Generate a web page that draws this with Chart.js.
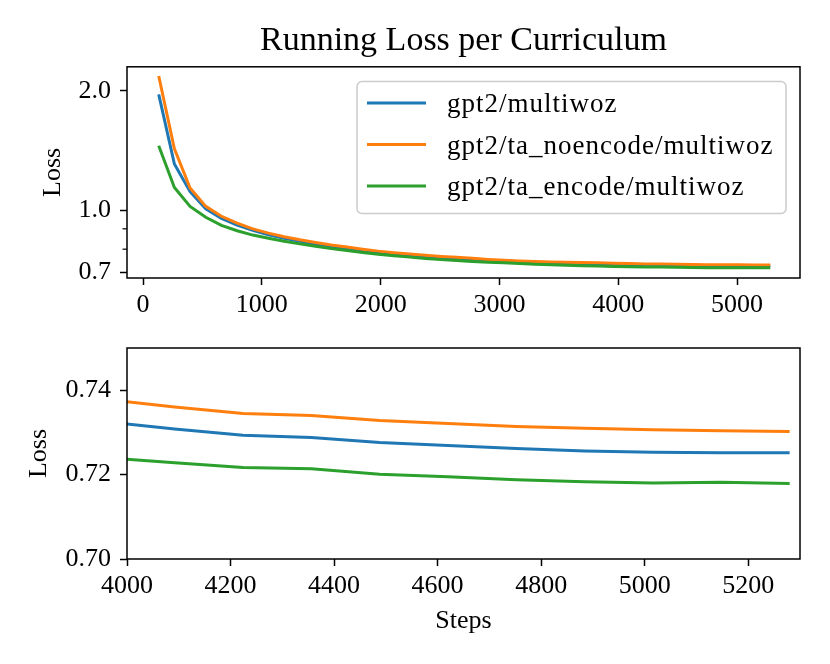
<!DOCTYPE html>
<html>
<head>
<meta charset="utf-8">
<script src="https://cdn.jsdelivr.net/npm/chart.js@4.4.1/dist/chart.umd.min.js"></script>
<style>
  html, body { margin: 0; padding: 0; background: #ffffff; }
  canvas { position: absolute; left: 0; }
</style>
</head>
<body>
<canvas id="topChart" width="830" height="332" style="top:0px"></canvas>
<canvas id="bottomChart" width="830" height="332" style="top:332px"></canvas>
<script>
// ---------------- data ----------------
const steps = [132, 264, 396, 528, 660, 792, 924, 1056, 1188, 1320,
               1452, 1584, 1716, 1848, 1980, 2112, 2244, 2376, 2508, 2640,
               2772, 2904, 3036, 3168, 3300, 3432, 3564, 3696, 3828, 3960,
               4092, 4224, 4356, 4488, 4620, 4752, 4884, 5016, 5148, 5280];

const lossMultiwoz = [1.96, 1.31, 1.116, 1.010, 0.956, 0.920, 0.892, 0.870, 0.852, 0.837,
                      0.824, 0.812, 0.802, 0.793, 0.785, 0.778, 0.772, 0.766, 0.761, 0.757,
                      0.753, 0.749, 0.746, 0.743, 0.740, 0.738, 0.7365, 0.735, 0.7337, 0.7325,
                      0.7308, 0.7293, 0.7288, 0.7276, 0.7269, 0.7262, 0.7256, 0.7253, 0.7252, 0.7252];

const lossTaNoencode = [2.18, 1.43, 1.14, 1.025, 0.968, 0.930, 0.900, 0.878, 0.860, 0.845,
                        0.832, 0.820, 0.810, 0.800, 0.791, 0.784, 0.778, 0.772, 0.767, 0.763,
                        0.759, 0.754, 0.750, 0.747, 0.745, 0.743, 0.7415, 0.7403, 0.7390, 0.7378,
                        0.7360, 0.7345, 0.7340, 0.7328, 0.7321, 0.7314, 0.7310, 0.7306, 0.7304, 0.7302];

const lossTaEncode = [1.456, 1.144, 1.025, 0.962, 0.918, 0.890, 0.868, 0.852, 0.838, 0.825,
                      0.814, 0.803, 0.794, 0.785, 0.777, 0.770, 0.764, 0.758, 0.753, 0.749,
                      0.745, 0.742, 0.739, 0.736, 0.733, 0.731, 0.729, 0.727, 0.7255, 0.7240,
                      0.7228, 0.7217, 0.7214, 0.7201, 0.7195, 0.7188, 0.7183, 0.7180, 0.7182, 0.7179];

const seriesLabels = ['gpt2/multiwoz', 'gpt2/ta_noencode/multiwoz', 'gpt2/ta_encode/multiwoz'];
const seriesColors = ['#1f77b4', '#ff7f0e', '#2ca02c'];

const titleText = 'Running Loss per Curriculum';
const yTitleText = 'Loss';
const xTitleText = 'Steps';

const topXTicks = [0, 1000, 2000, 3000, 4000, 5000];
const topYTicks = [0.7, 0.8, 0.9, 1.0, 2.0];
const topYLabeled = [0.7, 1.0, 2.0];
const bottomXTicks = [4000, 4200, 4400, 4600, 4800, 5000, 5200];
const bottomYTicks = [0.70, 0.72, 0.74];

// ---------------- helpers ----------------
const FONT = "'Liberation Serif', 'Times New Roman', serif";
Chart.defaults.font.family = FONT;
Chart.defaults.color = '#000000';
Chart.defaults.animation = false;

function makeDatasets(clip) {
  const arrs = [lossMultiwoz, lossTaNoencode, lossTaEncode];
  return arrs.map((a, i) => ({
    label: seriesLabels[i],
    data: steps.map((x, j) => ({ x: x, y: a[j] })),
    borderColor: seriesColors[i],
    backgroundColor: seriesColors[i],
    borderWidth: 3,
    pointRadius: 0,
    fill: false,
    tension: 0,
    order: 3 - i,
    clip: clip
  }));
}

function fixYWidth(s) {
  s.width = 127;
  s.paddingTop = 0;
  s.paddingBottom = 0;
}

const framePlugin = {
  id: 'frame',
  afterDatasetsDraw(chart) {
    const { ctx, chartArea: a } = chart;
    ctx.save();
    ctx.strokeStyle = '#000000';
    ctx.lineWidth = 1.5;
    ctx.strokeRect(a.left, a.top, a.right - a.left, a.bottom - a.top);
    ctx.restore();
  }
};

const minorTickPlugin = {
  id: 'minorTicks',
  afterDraw(chart) {
    const { ctx, chartArea: a } = chart;
    const ys = chart.scales.y;
    ctx.save();
    ctx.strokeStyle = '#000000';
    ctx.lineWidth = 1.2;
    topYTicks.filter(v => !topYLabeled.includes(v)).forEach(v => {
      const py = ys.getPixelForValue(v);
      ctx.beginPath();
      ctx.moveTo(a.left - 4.5, py);
      ctx.lineTo(a.left, py);
      ctx.stroke();
    });
    ctx.restore();
  }
};

const legendPlugin = {
  id: 'boxLegend',
  afterDraw(chart) {
    const { ctx, chartArea: a } = chart;
    const boxW = 429, boxH = 132;
    const right = a.right - 14;
    const top = a.top + 14.7;
    const left = right - boxW;
    ctx.save();
    ctx.beginPath();
    if (ctx.roundRect) ctx.roundRect(left, top, boxW, boxH, 5);
    else ctx.rect(left, top, boxW, boxH);
    ctx.fillStyle = 'rgba(255,255,255,0.8)';
    ctx.fill();
    ctx.strokeStyle = '#cccccc';
    ctx.lineWidth = 1.5;
    ctx.stroke();
    ctx.font = '27px ' + FONT;
    try { ctx.letterSpacing = '1px'; } catch (e) {}
    ctx.textBaseline = 'middle';
    ctx.textAlign = 'left';
    chart.data.datasets.forEach((ds, i) => {
      const y = top + 21.6 + i * 41.4;
      ctx.strokeStyle = ds.borderColor;
      ctx.lineWidth = 3;
      ctx.beginPath();
      ctx.moveTo(left + 10, y);
      ctx.lineTo(left + 69, y);
      ctx.stroke();
      ctx.fillStyle = '#000000';
      ctx.fillText(ds.label, left + 90, y + 2);
    });
    ctx.restore();
  }
};

const tickFont = { size: 26, family: FONT };

// ---------------- top chart ----------------
new Chart(document.getElementById('topChart'), {
  type: 'line',
  data: { datasets: makeDatasets(false) },
  plugins: [framePlugin, minorTickPlugin, legendPlugin],
  options: {
    responsive: false,
    devicePixelRatio: 1,
    events: [],
    layout: { padding: { left: 0, right: 30, top: 0, bottom: 0 } },
    plugins: {
      legend: { display: false },
      tooltip: { enabled: false },
      title: {
        display: true,
        text: titleText,
        fullSize: false,
        color: '#000000',
        font: { size: 34, weight: 'normal', family: FONT },
        padding: { top: 21, bottom: 5 }
      }
    },
    scales: {
      x: {
        type: 'linear',
        min: -135,
        max: 5530,
        bounds: 'data',
        afterBuildTicks: s => { s.ticks = topXTicks.map(v => ({ value: v })); },
        afterFit: s => { s.height = 54; },
        grid: { display: true, drawOnChartArea: false, drawTicks: true, tickLength: 7, tickColor: '#000000', tickWidth: 1.5 },
        border: { display: false },
        ticks: { font: tickFont, color: '#000000', padding: 5, maxRotation: 0, autoSkip: false, callback: v => String(v) }
      },
      y: {
        type: 'logarithmic',
        min: 0.677,
        max: 2.3,
        bounds: 'data',
        afterBuildTicks: s => { s.ticks = topYTicks.map(v => ({ value: v })); },
        afterFit: fixYWidth,
        grid: {
          display: true, drawOnChartArea: false, drawTicks: true, tickLength: 7, tickWidth: 1.5,
          tickColor: c => (c.tick && topYLabeled.includes(c.tick.value)) ? '#000000' : 'rgba(0,0,0,0)'
        },
        border: { display: false },
        ticks: { font: tickFont, color: '#000000', padding: 9, autoSkip: false,
                 callback: v => topYLabeled.includes(v) ? v.toFixed(1) : '' },
        title: { display: true, text: yTitleText, color: '#000000', font: tickFont, padding: { top: 38, bottom: 0 } }
      }
    }
  }
});

// ---------------- bottom chart ----------------
new Chart(document.getElementById('bottomChart'), {
  type: 'line',
  data: { datasets: makeDatasets(0) },
  plugins: [framePlugin],
  options: {
    responsive: false,
    devicePixelRatio: 1,
    events: [],
    layout: { padding: { left: 0, right: 30, top: 16, bottom: 0 } },
    plugins: {
      legend: { display: false },
      tooltip: { enabled: false },
      title: { display: false }
    },
    scales: {
      x: {
        type: 'linear',
        min: 4000,
        max: 5300,
        bounds: 'data',
        afterBuildTicks: s => { s.ticks = bottomXTicks.map(v => ({ value: v })); },
        afterFit: s => { s.height = 105; },
        grid: { display: true, drawOnChartArea: false, drawTicks: true, tickLength: 7, tickColor: '#000000', tickWidth: 1.5 },
        border: { display: false },
        ticks: { font: tickFont, color: '#000000', padding: 5, maxRotation: 0, autoSkip: false, callback: v => String(v) },
        title: { display: true, text: xTitleText, color: '#000000', font: tickFont, padding: { top: 0, bottom: 27 } }
      },
      y: {
        type: 'linear',
        min: 0.70,
        max: 0.75,
        bounds: 'data',
        afterBuildTicks: s => { s.ticks = bottomYTicks.map(v => ({ value: v })); },
        afterFit: fixYWidth,
        grid: { display: true, drawOnChartArea: false, drawTicks: true, tickLength: 7, tickColor: '#000000', tickWidth: 1.5 },
        border: { display: false },
        ticks: { font: tickFont, color: '#000000', padding: 9, autoSkip: false, callback: v => v.toFixed(2) },
        title: { display: true, text: yTitleText, color: '#000000', font: tickFont, padding: { top: 24, bottom: 0 } }
      }
    }
  }
});
</script>
</body>
</html>
